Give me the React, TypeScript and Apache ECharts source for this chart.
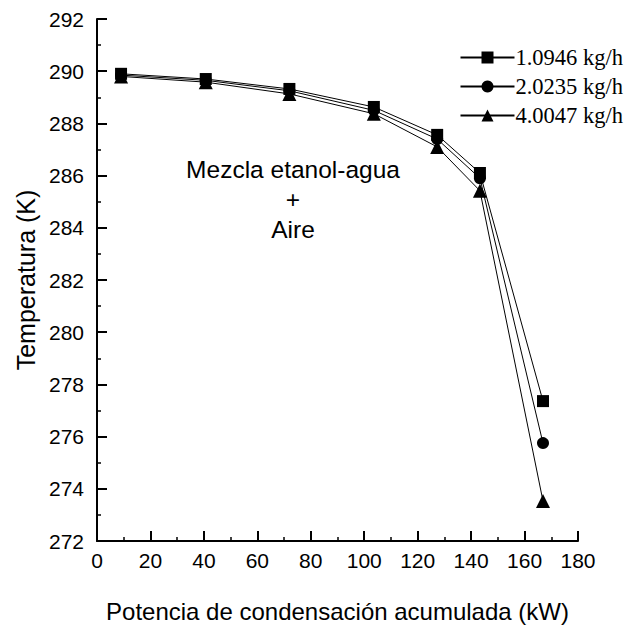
import React, { useEffect, useRef } from "react";
import * as echarts from "echarts";

const xValues = [9, 40.7, 72, 103.6, 127.3, 143.3, 166.9];
const seriesNames = ["1.0946 kg/h", "2.0235 kg/h", "4.0047 kg/h"];
const temp1 = [289.9, 289.7, 289.32, 288.63, 287.56, 286.1, 277.36];
const temp2 = [289.85, 289.65, 289.25, 288.5, 287.4, 285.9, 275.75];
const temp3 = [289.8, 289.58, 289.13, 288.37, 287.1, 285.42, 273.53];
const symbols = ["rect", "circle", "triangle"];
const xTicks = [0, 20, 40, 60, 80, 100, 120, 140, 160, 180];
const yTicks = [272, 274, 276, 278, 280, 282, 284, 286, 288, 290, 292];
const annotation = ["Mezcla etanol-agua", "+", "Aire"];

const SANS = "'Liberation Sans', Arial, sans-serif";
const SERIF = "'Liberation Serif', 'Times New Roman', serif";

export default function App() {
  const ref = useRef<HTMLDivElement>(null);
  useEffect(() => {
    if (!ref.current) return;
    const chart = echarts.init(ref.current, undefined, { renderer: "svg" });
    const all = [temp1, temp2, temp3];
    const symbolSizes = [12, 12, 14];
    chart.setOption({
      animation: false,
      backgroundColor: "#fff",
      grid: { left: 97, right: 54, top: 19, bottom: 87, containLabel: false },
      legend: {
        right: 4,
        top: 41,
        orient: "vertical",
        itemWidth: 54,
        itemHeight: 15,
        itemGap: 6,
        textStyle: { fontFamily: SERIF, fontSize: 22.5, color: "#000", padding: [0, 0, 0, -4] },
        data: seriesNames,
      },
      xAxis: {
        type: "value",
        min: xTicks[0],
        max: xTicks[xTicks.length - 1],
        interval: 20,
        name: "Potencia de condensación acumulada (kW)",
        nameLocation: "middle",
        nameGap: 58,
        nameTextStyle: { fontFamily: SANS, fontSize: 24, color: "#000" },
        axisLine: { lineStyle: { color: "#000", width: 2 } },
        axisTick: { inside: true, length: 10, lineStyle: { color: "#000", width: 2 } },
        minorTick: { show: true, splitNumber: 2, length: 4, lineStyle: { color: "#000", width: 1.5 } },
        axisLabel: { fontFamily: SANS, fontSize: 21, color: "#000", margin: 9 },
        splitLine: { show: false },
      },
      yAxis: {
        type: "value",
        min: yTicks[0],
        max: yTicks[yTicks.length - 1],
        interval: 2,
        name: "Temperatura (K)",
        nameLocation: "middle",
        nameGap: 56,
        nameTextStyle: { fontFamily: SANS, fontSize: 25, color: "#000" },
        axisLine: { show: true, lineStyle: { color: "#000", width: 2 } },
        axisTick: { show: true, inside: true, length: 10, lineStyle: { color: "#000", width: 2 } },
        minorTick: { show: true, splitNumber: 2, length: 4, lineStyle: { color: "#000", width: 1.5 } },
        axisLabel: { fontFamily: SANS, fontSize: 21, color: "#000", margin: 13 },
        splitLine: { show: false },
      },
      graphic: annotation.map((t, i) => ({
        type: "text",
        x: 293,
        y: 169 + i * 30,
        style: {
          text: t,
          fontFamily: SANS,
          fontSize: 24.5,
          fill: "#000",
          align: "center",
          verticalAlign: "middle",
        },
      })),
      series: all.map((data, i) => ({
        name: seriesNames[i],
        type: "line",
        data: xValues.map((x, j) => [x, data[j]]),
        symbol: symbols[i],
        symbolSize: symbolSizes[i],
        showSymbol: true,
        lineStyle: { color: "#000", width: 1 },
        itemStyle: { color: "#000", borderWidth: 0 },
        z: 2 + (2 - i),
      })),
    });
    return () => chart.dispose();
  }, []);
  return <div ref={ref} style={{ width: 632, height: 628, position: "absolute", left: 0, top: 0 }} />;
}
